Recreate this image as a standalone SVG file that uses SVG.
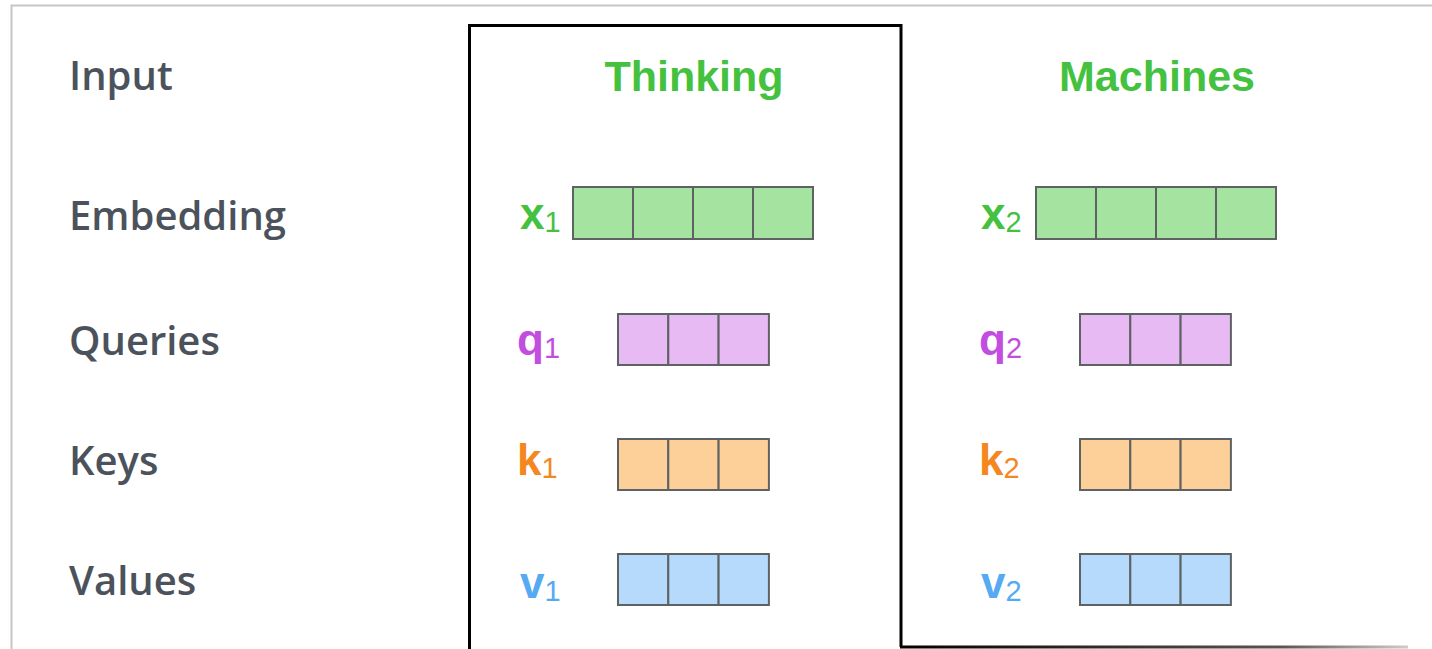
<svg xmlns="http://www.w3.org/2000/svg" width="1432" height="649" viewBox="0 0 1432 649">
<defs>
<style>
.row{font-family:"Open Sans","DejaVu Sans",sans-serif;font-size:40px;font-weight:600;fill:#4b525c;}
.title{font-family:"Liberation Sans",Arial,sans-serif;font-weight:bold;font-size:43px;fill:#44c23f;text-anchor:middle;}
.lab{font-family:"Liberation Sans",Arial,sans-serif;font-weight:bold;font-size:44px;}
.sub{font-weight:normal;font-size:29px;}
.cell{stroke:#5f6263;stroke-width:2;}
.g{fill:#a5e3a1;}
.p{fill:#e8baf4;}
.o{fill:#fdd09a;}
.b{fill:#b5dafc;}
</style>
<linearGradient id="fade" x1="0" y1="0" x2="1" y2="0">
<stop offset="0" stop-color="#000"/>
<stop offset="0.75" stop-color="#555"/>
<stop offset="1" stop-color="#ccc"/>
</linearGradient>
<g id="vec4"><rect x="0" y="0" width="60" height="52"/><rect x="60" y="0" width="60" height="52"/><rect x="120" y="0" width="60" height="52"/><rect x="180" y="0" width="60" height="52"/></g>
<g id="vec3"><rect x="0" y="0" width="50.3" height="51"/><rect x="50.3" y="0" width="50.3" height="51"/><rect x="100.6" y="0" width="50.3" height="51"/></g>
</defs>
<rect width="1432" height="649" fill="#fff"/>
<g id="frame">
<path d="M11.5 649 V5.5 H1432" fill="none" stroke="#c6c6c6" stroke-width="2"/>
<path d="M469.5 649 V25.5 H901 V647" fill="none" stroke="#000" stroke-width="3"/>
<rect x="900" y="645.5" width="508" height="3" fill="url(#fade)"/>
</g>
<g id="row-labels">
<text class="row" x="69" y="90">Input</text>
<text class="row" x="69" y="230">Embedding</text>
<text class="row" x="69" y="355">Queries</text>
<text class="row" x="69" y="475">Keys</text>
<text class="row" x="69" y="595">Values</text>
</g>
<g id="thinking">
<text class="title" x="694" y="91">Thinking</text>
<text class="lab" x="520" y="229" fill="#44c23f">x<tspan class="sub" dy="3">1</tspan></text>
<use href="#vec4" x="573" y="187" class="cell g"/>
<text class="lab" x="517" y="355" fill="#c24ee0">q<tspan class="sub" dy="3">1</tspan></text>
<use href="#vec3" x="618" y="314" class="cell p"/>
<text class="lab" x="517" y="475" fill="#f5871f">k<tspan class="sub" dy="3">1</tspan></text>
<use href="#vec3" x="618" y="439" class="cell o"/>
<text class="lab" x="520" y="598" fill="#55aaf2">v<tspan class="sub" dy="3">1</tspan></text>
<use href="#vec3" x="618" y="554" class="cell b"/>
</g>
<g id="machines">
<text class="title" x="1157" y="91">Machines</text>
<text class="lab" x="981" y="229" fill="#44c23f">x<tspan class="sub" dy="3">2</tspan></text>
<use href="#vec4" x="1036" y="187" class="cell g"/>
<text class="lab" x="979" y="355" fill="#c24ee0">q<tspan class="sub" dy="3">2</tspan></text>
<use href="#vec3" x="1080" y="314" class="cell p"/>
<text class="lab" x="979" y="475" fill="#f5871f">k<tspan class="sub" dy="3">2</tspan></text>
<use href="#vec3" x="1080" y="439" class="cell o"/>
<text class="lab" x="981" y="598" fill="#55aaf2">v<tspan class="sub" dy="3">2</tspan></text>
<use href="#vec3" x="1080" y="554" class="cell b"/>
</g>
<g id="connectors"></g>
</svg>
